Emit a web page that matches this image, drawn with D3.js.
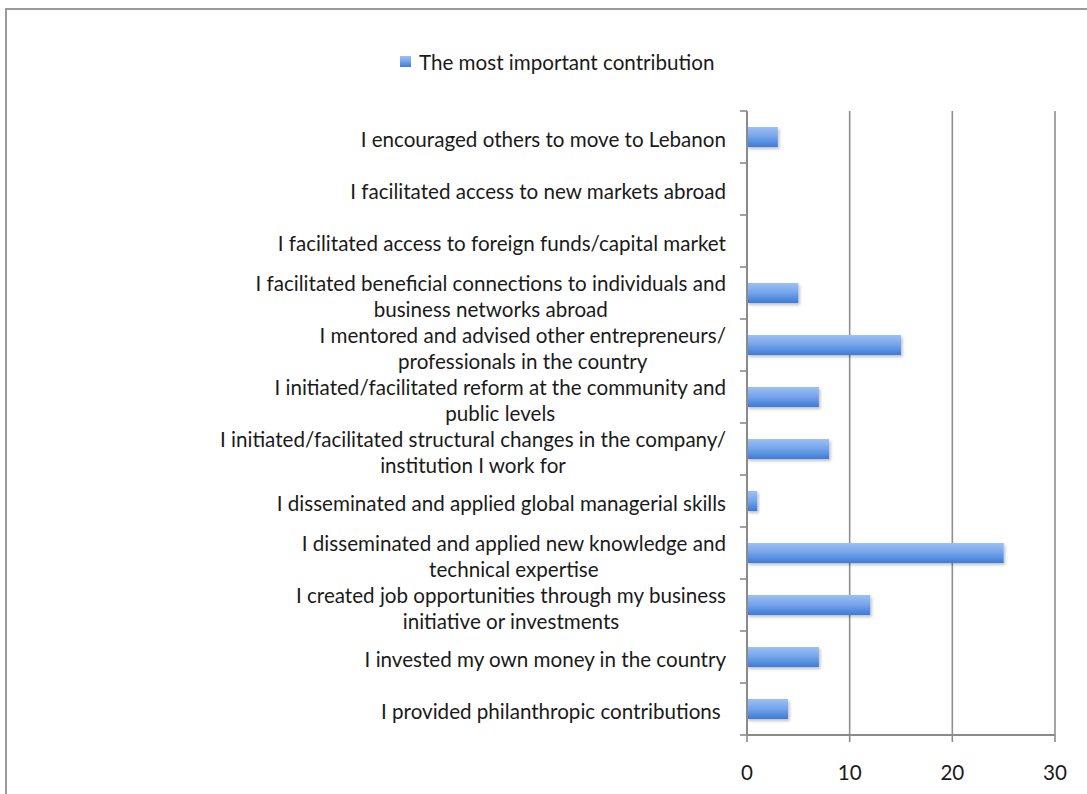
<!DOCTYPE html>
<html>
<head>
<meta charset="utf-8">
<script src="https://cdn.jsdelivr.net/npm/d3@7"></script>
<style>
  html, body { margin: 0; padding: 0; background: #fff; }
  svg { display: block; }
  text { font-family: Lato, "Open Sans", sans-serif; fill: #1a1a1a; white-space: pre; }
</style>
</head>
<body>
<svg id="chart" width="1087" height="794"></svg>
<script>
// Contribution categories, top to bottom (line breaks mark wrapped labels)
const categories = [
  "I encouraged others to move to Lebanon",
  "I facilitated access to new markets abroad",
  "I facilitated access to foreign funds/capital market",
  "I facilitated beneficial connections to individuals and\nbusiness networks abroad",
  "I mentored and advised other entrepreneurs/\nprofessionals in the country",
  "I initiated/facilitated reform at the community and\npublic levels",
  "I initiated/facilitated structural changes in the company/\ninstitution I work for",
  "I disseminated and applied global managerial skills",
  "I disseminated and applied new knowledge and\ntechnical expertise",
  "I created job opportunities through my business\ninitiative or investments",
  "I invested my own money in the country",
  "I provided philanthropic contributions "
];
const values = [3, 0, 0, 5, 15, 7, 8, 1, 25, 12, 7, 4];
const xTicks = [0, 10, 20, 30];
const seriesName = "The most important contribution";

const fontSize = 20.6;
const svg = d3.select("#chart");

// outer frame
svg.append("rect")
  .attr("x", 6).attr("y", 9).attr("width", 1200).attr("height", 900)
  .attr("fill", "none").attr("stroke", "#9a9a9a").attr("stroke-width", 2);

const defs = svg.append("defs");
const grad = defs.append("linearGradient")
  .attr("id", "barGrad").attr("x1", 0).attr("y1", 0).attr("x2", 0).attr("y2", 1);
grad.append("stop").attr("offset", "0%").attr("stop-color", "#9cc0f6");
grad.append("stop").attr("offset", "45%").attr("stop-color", "#78a6ec");
grad.append("stop").attr("offset", "100%").attr("stop-color", "#3c7bd6");

const shadow = defs.append("filter").attr("id", "shadow")
  .attr("x", "-10%").attr("y", "-30%").attr("width", "130%").attr("height", "180%");
shadow.append("feDropShadow").attr("dx", 1.5).attr("dy", 2).attr("stdDeviation", 1.5)
  .attr("flood-color", "#000").attr("flood-opacity", 0.25);

const plotLeft = 747, plotRight = 1055, plotTop = 111, plotBottom = 735;

const x = d3.scaleLinear().domain([0, 30]).range([plotLeft, plotRight]);
const y = d3.scaleBand().domain(categories).range([plotTop, plotBottom]).paddingInner(0).paddingOuter(0);
const barH = 20;

// vertical gridlines
svg.append("g").selectAll("line")
  .data(xTicks.filter(d => d > 0))
  .join("line")
  .attr("x1", d => x(d)).attr("x2", d => x(d))
  .attr("y1", plotTop).attr("y2", plotBottom)
  .attr("stroke", "#8f8f8f").attr("stroke-width", 1.6);

// bars
svg.append("g").selectAll("rect")
  .data(categories.map((c, i) => ({ c, v: values[i] })).filter(d => d.v > 0))
  .join("rect")
  .attr("x", x(0))
  .attr("y", d => y(d.c) + y.bandwidth() / 2 - barH / 2)
  .attr("width", d => x(d.v) - x(0))
  .attr("height", barH)
  .attr("fill", "url(#barGrad)")
  .attr("filter", "url(#shadow)");

// category axis with tick marks at band boundaries
const axisColor = "#8a8a8a";
const yAxis = svg.append("g");
yAxis.append("line")
  .attr("x1", plotLeft).attr("x2", plotLeft).attr("y1", plotTop).attr("y2", plotBottom)
  .attr("stroke", axisColor).attr("stroke-width", 2);
const bounds = categories.map(c => y(c)).concat([plotBottom]);
yAxis.selectAll("line.tick").data(bounds).join("line").attr("class", "tick")
  .attr("x1", plotLeft - 7).attr("x2", plotLeft).attr("y1", d => d).attr("y2", d => d)
  .attr("stroke", axisColor).attr("stroke-width", 1.6);

// value axis
const xAxis = svg.append("g");
xAxis.append("line")
  .attr("x1", plotLeft).attr("x2", plotRight).attr("y1", plotBottom).attr("y2", plotBottom)
  .attr("stroke", axisColor).attr("stroke-width", 2);
xAxis.selectAll("line.tick").data(xTicks).join("line").attr("class", "tick")
  .attr("x1", d => x(d)).attr("x2", d => x(d)).attr("y1", plotBottom).attr("y2", plotBottom + 7)
  .attr("stroke", axisColor).attr("stroke-width", 1.6);
xAxis.selectAll("text").data(xTicks).join("text")
  .attr("x", d => x(d)).attr("y", 772)
  .attr("text-anchor", "middle").attr("dominant-baseline", "central")
  .attr("font-size", fontSize)
  .text(d => d);

// category labels: block right-aligned to the axis, lines centred within the block
const labelRight = 726;
const labels = svg.append("g");
categories.forEach(c => {
  const lines = c.split("\n");
  const cy = y(c) + y.bandwidth() / 2 + 2;
  const g = labels.append("g");
  const texts = lines.map((ln, i) => g.append("text")
    .attr("font-size", fontSize)
    .attr("dominant-baseline", "central")
    .attr("y", lines.length === 1 ? cy : cy + 1 + (i - 0.5) * 26.5)
    .text(ln));
  const widths = texts.map(t => t.node().getComputedTextLength());
  const w = d3.max(widths);
  texts.forEach(t => t.attr("x", labelRight - w / 2).attr("text-anchor", "middle"));
});

// legend
const legend = svg.append("g");
legend.append("rect")
  .attr("x", 400).attr("y", 56).attr("width", 11).attr("height", 11)
  .attr("fill", "url(#barGrad)");
legend.append("text")
  .attr("x", 419).attr("y", 62)
  .attr("font-size", fontSize).attr("dominant-baseline", "central")
  .text(seriesName);
</script>
</body>
</html>
